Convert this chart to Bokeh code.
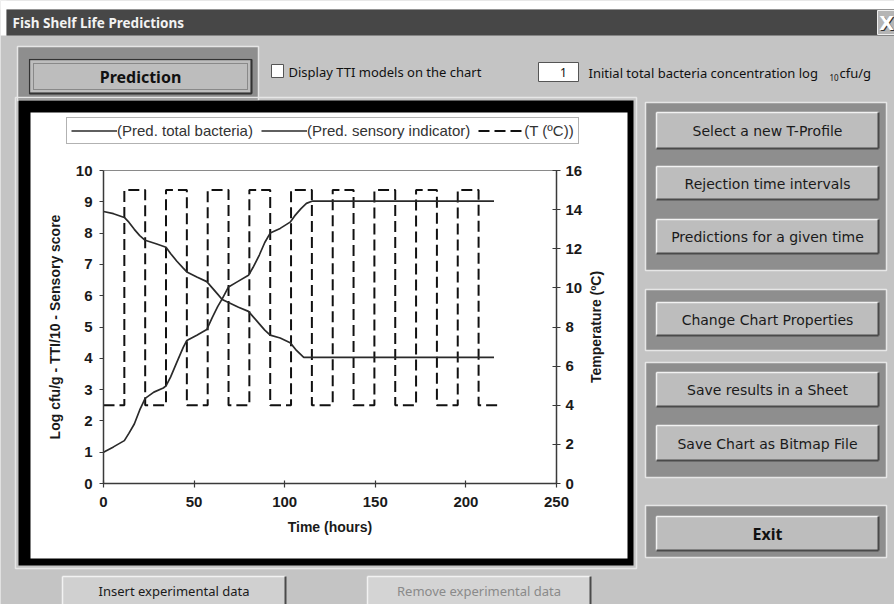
import math
from bokeh.plotting import figure
from bokeh.models import Range1d, LinearAxis, FixedTicker, Legend, LegendItem
from bokeh.core.properties import value
from bokeh.embed import file_html
from bokeh.resources import INLINE

# ------------------------------------------------------------------
# Chart data
# ------------------------------------------------------------------
bact_time = [0, 5.5, 11.5, 14, 17, 20, 23, 27.8, 33, 34.5, 37, 40.5, 44, 46,
             51.5, 57, 60, 63, 65.5, 69, 74, 80, 82.5, 86, 89, 92, 97.5, 103,
             105.5, 109, 112, 115, 215.5]
bact_log = [1.0, 1.17, 1.37, 1.6, 1.9, 2.35, 2.72, 2.92, 3.05, 3.12, 3.4, 3.88, 4.35, 4.57,
            4.74, 4.92, 5.3, 5.65, 5.9, 6.28, 6.45, 6.65, 6.9, 7.3, 7.7, 8.0, 8.15, 8.35,
            8.55, 8.78, 8.95, 9.02, 9.02]

sens_time = [0, 5.5, 11.5, 14, 17, 20, 23, 29, 34.5, 37, 40.5, 44, 46, 51.5, 57,
             60, 63, 65.5, 69, 74.5, 80, 83, 86, 89, 92, 97.5, 103, 106.5, 110.5, 215.5]
sens_score = [8.69, 8.62, 8.5, 8.35, 8.12, 7.92, 7.77, 7.66, 7.55, 7.35, 7.1, 6.88, 6.76, 6.6, 6.45,
              6.25, 6.05, 5.88, 5.78, 5.63, 5.5, 5.3, 5.1, 4.9, 4.74, 4.65, 4.5, 4.25, 4.03, 4.03]

temp_time = [0, 11.5, 11.5, 23, 23, 34.5, 34.5, 46, 46, 57.5, 57.5, 69, 69, 80.5, 80.5,
             92, 92, 103.5, 103.5, 115, 115, 126.5, 126.5, 138, 138, 149.5, 149.5, 161,
             161, 172.5, 172.5, 184, 184, 195.5, 195.5, 207, 207, 218]
temp_c = [4, 4, 15, 15, 4, 4, 15, 15, 4, 4, 15, 15, 4, 4, 15, 15, 4, 4, 15, 15,
          4, 4, 15, 15, 4, 4, 15, 15, 4, 4, 15, 15, 4, 4, 15, 15, 4, 4]

x_ticks = [0, 50, 100, 150, 200, 250]
left_ticks = [0, 1, 2, 3, 4, 5, 6, 7, 8, 9, 10]
right_ticks = [0, 2, 4, 6, 8, 10, 12, 14, 16]
legend_labels = ["(Pred. total bacteria)", "(Pred. sensory indicator)", "(T (\u00baC))"]
x_label = "Time (hours)"
left_label = "Log cfu/g - TTI/10 - Sensory score"
right_label = "Temperature (\u00baC)"

# dialog texts
window_title = "Fish Shelf Life Predictions"
button_labels = ["Prediction", "Select a new T-Profile", "Rejection time intervals",
                 "Predictions for a given time", "Change Chart Properties",
                 "Save results in a Sheet", "Save Chart as Bitmap File", "Exit",
                 "Insert experimental data", "Remove experimental data"]

# ------------------------------------------------------------------
# Layout (pixels)
# ------------------------------------------------------------------
W, H = 894, 604
X0_PX, X1_PX = 103, 556      # t = 0 .. 250
Y0_PX, Y1_PX = 483, 170      # value 0 .. top
T_LO, T_HI = 0, 250
V_LO, V_HI = 0, 10
C_LO, C_HI = 0, 16

def canvas_range(d0, d1, p0, p1, q0, q1):
    s = (d1 - d0) / (p1 - p0)
    return Range1d(d0 + (q0 - p0) * s, d0 + (q1 - p0) * s)

BODY = "#c4c4c4"
PANEL = "#8e8e8e"
BTN = "#bdbdbd"
CHART_FONT = "Liberation Sans"
UI_FONT = "Noto Sans"
BTN_FONT = "DejaVu Sans"

p = figure(width=W, height=H, x_range=Range1d(0, W), y_range=Range1d(H, 0),
           x_axis_location=None, y_axis_location=None, toolbar_location=None,
           output_backend="svg", min_border=0, outline_line_color=None,
           background_fill_color=BODY, border_fill_color=BODY)
p.grid.visible = False

p.extra_x_ranges = {"t": canvas_range(T_LO, T_HI, X0_PX, X1_PX, 0, W)}
p.extra_y_ranges = {"v": canvas_range(V_LO, V_HI, Y0_PX, Y1_PX, H, 0),
                    "c": canvas_range(C_LO, C_HI, Y0_PX, Y1_PX, H, 0)}

# ---------------- window chrome ----------------
p.quad(left=[0, 0], right=[W, 6], top=[0, 0], bottom=[9, 35], fill_color="white", line_color=None)
p.quad(left=[6], right=[W], top=[9], bottom=[35], fill_color="#474747", line_color=None)
p.text(x=[12], y=[22.5], text=[window_title], text_font=value(UI_FONT), text_font_style="bold",
       text_font_size="13.5px", text_color="#f2f2f2", text_align="left", text_baseline="middle")
p.quad(left=[877], right=[894], top=[10], bottom=[34], fill_color="#b5b5b5", line_color="#eeeeee")
p.text(x=[887, 886], y=[23, 22], text=["X", "X"], text_font=value("DejaVu Sans"), text_font_style="bold",
       text_font_size="19px", text_color=["#333333", "#ffffff"], text_align="center", text_baseline="middle")

# group panels
panel_l = [17, 645, 645, 645, 645]
panel_r = [258, 886, 886, 886, 886]
panel_t = [46, 102, 289, 362, 505]
panel_b = [100, 270, 350, 477, 557]
p.quad(left=panel_l, right=panel_r, top=panel_t, bottom=panel_b,
       fill_color=PANEL, line_color="#e6e6e6", line_width=1.5)

# chart frame
p.quad(left=[15], right=[636], top=[97], bottom=[568], fill_color=None, line_color="#e6e6e6", line_width=1.5)
p.quad(left=[18], right=[633], top=[100], bottom=[565], fill_color="black", line_color=None)
p.quad(left=[30], right=[627], top=[112], bottom=[558], fill_color="white", line_color=None)

# buttons
btn_l = [29, 656, 656, 656, 656, 656, 656, 656, 62, 367]
btn_r = [251, 878, 878, 878, 878, 878, 878, 878, 285, 590]
btn_t = [59, 112, 166, 219, 302, 372, 425, 516, 576, 576]
btn_b = [93, 148, 199, 253, 335, 406, 460, 550, 606, 606]
btn_fill = [BTN] * 8 + ["#d0d0d0", "#d4d4d4"]
p.quad(left=btn_l, right=btn_r, top=btn_t, bottom=btn_b, fill_color=btn_fill, line_color=None)
hx0, hy0, hx1, hy1, sx0, sy0, sx1, sy1 = [], [], [], [], [], [], [], []
for l, r, t, b in zip(btn_l, btn_r, btn_t, btn_b):
    hx0 += [l, l]; hy0 += [t, t]; hx1 += [r, l]; hy1 += [t, b]
    sx0 += [l, r]; sy0 += [b, t]; sx1 += [r, r]; sy1 += [b, b]
p.segment(x0=hx0, y0=hy0, x1=hx1, y1=hy1, line_color="#f2f2f2", line_width=1.5)
p.segment(x0=sx0, y0=sy0, x1=sx1, y1=sy1, line_color="#4a4a4a", line_width=2)
# focus rectangle on "Prediction"
p.quad(left=[btn_l[0]], right=[btn_r[0]], top=[btn_t[0]], bottom=[btn_b[0]],
       fill_color=None, line_color="#333333", line_width=1.5)
p.quad(left=[btn_l[0] + 4], right=[btn_r[0] - 4], top=[btn_t[0] + 4], bottom=[btn_b[0] - 4],
       fill_color=None, line_color="#555555", line_width=1, line_dash="1 1")

bx = [(l + r) / 2 for l, r in zip(btn_l, btn_r)]
by = [(t + min(b, 604)) / 2 + 0.5 for t, b in zip(btn_t, btn_b)]
p.text(x=[bx[0], bx[7]], y=[by[0], by[7]], text=[button_labels[0], button_labels[7]],
       text_font=value(UI_FONT), text_font_style="bold", text_font_size="16px",
       text_color="#111111", text_align="center", text_baseline="middle")
p.text(x=bx[1:7], y=by[1:7], text=button_labels[1:7],
       text_font=value(BTN_FONT), text_font_size="14px",
       text_color="#1a1a1a", text_align="center", text_baseline="middle")
p.text(x=[bx[8]], y=[by[8]], text=[button_labels[8]], text_font=value(UI_FONT),
       text_font_size="13px", text_color="#1a1a1a", text_align="center", text_baseline="middle")
p.text(x=[bx[9]], y=[by[9]], text=[button_labels[9]], text_font=value(UI_FONT),
       text_font_size="13px", text_color="#8a8a8a", text_align="center", text_baseline="middle")

# checkbox + input box
p.quad(left=[271, 538], right=[283, 578], top=[64, 62], bottom=[77, 81],
       fill_color="white", line_color="#555555", line_width=1)
p.text(x=[288, 588, 839], y=[71, 72, 72],
       text=["Display TTI models on the chart", "Initial total bacteria concentration log", "cfu/g"],
       text_font=value(UI_FONT), text_font_size="13px", text_color="#111111",
       text_align="left", text_baseline="middle")
p.text(x=[829], y=[77], text=["10"], text_font=value(UI_FONT), text_font_size="8px",
       text_color="#111111", text_align="left", text_baseline="middle")
p.text(x=[563], y=[71.5], text=["1"], text_font=value(UI_FONT), text_font_size="12px",
       text_color="#111111", text_align="center", text_baseline="middle")

# ---------------- chart ----------------
r_t = p.line(temp_time, temp_c, x_range_name="t", y_range_name="c",
             line_color="#111111", line_width=2, line_dash="11 5")
r_b = p.line(bact_time, bact_log, x_range_name="t", y_range_name="v",
             line_color="#2a2a2a", line_width=1.7)
r_s = p.line(sens_time, sens_score, x_range_name="t", y_range_name="v",
             line_color="#2a2a2a", line_width=1.7)

def style_axis(ax):
    ax.major_label_text_font = CHART_FONT
    ax.major_label_text_font_style = "bold"
    ax.major_label_text_font_size = "15px"
    ax.major_label_text_color = "#1a1a1a"
    ax.axis_label_text_font = CHART_FONT
    ax.axis_label_text_font_style = "bold"
    ax.axis_label_text_font_size = "14px"
    ax.axis_label_text_color = "#1a1a1a"
    ax.axis_line_color = "#3a3a3a"
    ax.axis_line_width = 1.5
    ax.major_tick_line_color = "#3a3a3a"
    ax.major_tick_line_width = 1.2
    ax.minor_tick_line_color = None

xaxis = LinearAxis(x_range_name="t", y_range_name="v", fixed_location=V_LO, bounds=(T_LO, T_HI),
                   ticker=FixedTicker(ticks=x_ticks), axis_label=x_label)
style_axis(xaxis)
xaxis.major_tick_in = 3
xaxis.major_tick_out = 4
xaxis.major_label_standoff = 9
xaxis.axis_label_standoff = 9
p.add_layout(xaxis, "below")

laxis = LinearAxis(x_range_name="t", y_range_name="v", fixed_location=T_LO, bounds=(V_LO, V_HI),
                   ticker=FixedTicker(ticks=left_ticks), axis_label=left_label)
style_axis(laxis)
laxis.major_tick_in = 0
laxis.major_tick_out = 4
laxis.major_label_standoff = 7
laxis.axis_label_standoff = 10
p.add_layout(laxis, "left")

raxis = LinearAxis(x_range_name="t", y_range_name="c", fixed_location=T_HI, bounds=(C_LO, C_HI),
                   ticker=FixedTicker(ticks=right_ticks))
style_axis(raxis)
raxis.major_tick_in = 4
raxis.major_tick_out = 4
raxis.major_label_standoff = 5
p.add_layout(raxis, "right")

taxis = LinearAxis(x_range_name="t", y_range_name="v", fixed_location=V_HI, bounds=(T_LO, T_HI),
                   ticker=FixedTicker(ticks=[]))
taxis.axis_line_color = "#8a8a8a"
taxis.axis_line_width = 1.2
taxis.major_tick_line_color = None
taxis.minor_tick_line_color = None
p.add_layout(taxis, "above")

p.text(x=[595], y=[(Y0_PX + Y1_PX) / 2], text=[right_label], angle=math.pi / 2,
       text_font=value(CHART_FONT), text_font_style="bold", text_font_size="14px",
       text_color="#1a1a1a", text_align="center", text_baseline="middle")

legend = Legend(items=[LegendItem(label=legend_labels[0], renderers=[r_b]),
                       LegendItem(label=legend_labels[1], renderers=[r_s]),
                       LegendItem(label=legend_labels[2], renderers=[r_t])],
                orientation="horizontal", location=(66, H - 144),
                label_text_font=CHART_FONT, label_text_font_size="15px", label_text_color="#333333",
                glyph_width=46, glyph_height=15, label_height=15, label_standoff=0,
                spacing=8, padding=4, margin=0,
                border_line_color="#666666", border_line_width=1,
                background_fill_color="white", background_fill_alpha=1.0)
p.add_layout(legend, "center")

open("out.html", "w").write(file_html(p, INLINE, title="Fish Shelf Life Predictions"))
